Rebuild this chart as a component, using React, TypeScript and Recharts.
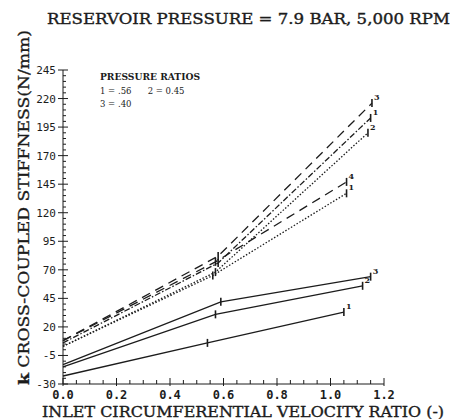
import React from "react";
import { Line, LineChart, XAxis, YAxis } from "recharts";

// upper group (dashed / dotted)
const dashHigh = [
  { x: 0, y: 8 },
  { x: 0.58, y: 82 },
  { x: 1.155, y: 216 },
];
const dashDotHigh = [
  { x: 0, y: 6 },
  { x: 0.58, y: 76 },
  { x: 1.15, y: 203 },
];
const dotHigh = [
  { x: 0, y: 3 },
  { x: 0.57, y: 68 },
  { x: 1.14, y: 190 },
];
const dashShort = [
  { x: 0, y: 8 },
  { x: 0.57, y: 77 },
  { x: 1.06, y: 147 },
];
const dotShort = [
  { x: 0, y: 3 },
  { x: 0.56, y: 65 },
  { x: 1.06, y: 137 },
];

// lower group (solid)
const solid3 = [
  { x: 0, y: -13 },
  { x: 0.59, y: 42 },
  { x: 1.15, y: 64 },
];
const solid2 = [
  { x: 0, y: -15 },
  { x: 0.57, y: 31 },
  { x: 1.12, y: 56 },
];
const solid1 = [
  { x: 0, y: -23 },
  { x: 0.54, y: 6 },
  { x: 1.05, y: 33 },
];

const yMajor = [-30, -5, 20, 45, 70, 95, 120, 145, 170, 195, 220, 245];
const xMajor = [0, 0.2, 0.4, 0.6, 0.8, 1.0, 1.2];
const yTicks = Array.from({ length: 56 }, (_, i) => -30 + i * 5);
const xTicks = Array.from({ length: 25 }, (_, i) => Math.round(i * 5) / 100);

const ink = "#1c1c1c";
const mono = "'DejaVu Sans Mono', monospace";
const serif = "'DejaVu Serif', serif";

function YTick(props: any) {
  const { x, y, payload } = props;
  const v = payload.value;
  const major = yMajor.includes(v);
  return (
    <g>
      {major ? (
        <>
          <line x1={x - 5} x2={x + 5} y1={y} y2={y} stroke={ink} />
          <text x={x - 7} y={y + 4} textAnchor="end" fontFamily={mono} fontSize={11} fill={ink}>
            {v}
          </text>
        </>
      ) : (
        <line x1={x} x2={x + 3} y1={y} y2={y} stroke={ink} />
      )}
    </g>
  );
}

function XTick(props: any) {
  const { x, y, payload } = props;
  const v = payload.value;
  const major = xMajor.some((m) => Math.abs(m - v) < 1e-6);
  return (
    <g>
      {major ? (
        <>
          <line x1={x} x2={x} y1={y - 6} y2={y + 2} stroke={ink} />
          <text x={x} y={y + 15} textAnchor="middle" fontFamily={mono} fontSize={12} fontWeight="bold" fill={ink}>
            {v.toFixed(1)}
          </text>
        </>
      ) : (
        <line x1={x} x2={x} y1={y - 4} y2={y} stroke={ink} />
      )}
    </g>
  );
}

function makeDot(label: string) {
  return (p: any) => {
    const { cx, cy, index, points } = p;
    if (index === 0) return <g key={`d${index}`} />;
    const last = points ? index === points.length - 1 : index === 2;
    return (
      <g key={`d${index}`}>
        <line x1={cx} x2={cx} y1={cy - 4} y2={cy + 4} stroke={ink} strokeWidth={1.6} />
        {last && (
          <text x={cx + 2} y={cy - 3} fontFamily={serif} fontWeight="bold" fontSize={8} fill={ink}>
            {label}
          </text>
        )}
      </g>
    );
  };
}

const lines = [
  { key: "dashHigh", data: dashHigh, dash: "9 6", label: "3" },
  { key: "dashDotHigh", data: dashDotHigh, dash: "6 2 1.5 2", label: "1" },
  { key: "dotHigh", data: dotHigh, dash: "1.5 1.8", label: "2" },
  { key: "dashShort", data: dashShort, dash: "9 6", label: "4" },
  { key: "dotShort", data: dotShort, dash: "1.5 1.8", label: "1" },
  { key: "solid3", data: solid3, dash: undefined, label: "3" },
  { key: "solid2", data: solid2, dash: undefined, label: "2" },
  { key: "solid1", data: solid1, dash: undefined, label: "1" },
];

export default function App() {
  return (
    <div style={{ position: "absolute", left: 0, top: 0, width: 454, height: 419, background: "#fff" }}>
      <LineChart width={454} height={419} margin={{ top: 70, right: 70, bottom: 0, left: 0 }}>
        <XAxis
          type="number"
          dataKey="x"
          domain={[0, 1.2]}
          ticks={xTicks}
          interval={0}
          tickLine={false}
          tickSize={0}
          tickMargin={0}
          height={35}
          stroke={ink}
          tick={<XTick />}
          allowDuplicatedCategory={false}
        />
        <YAxis
          type="number"
          domain={[-30, 245]}
          ticks={yTicks}
          interval={0}
          tickLine={false}
          tickSize={0}
          tickMargin={0}
          width={63}
          stroke={ink}
          tick={<YTick />}
        />
        {lines.map((l) => (
          <Line
            key={l.key}
            data={l.data}
            dataKey="y"
            type="linear"
            stroke={ink}
            strokeWidth={1.3}
            strokeDasharray={l.dash}
            dot={makeDot(l.label)}
            activeDot={false}
            isAnimationActive={false}
          />
        ))}
      </LineChart>
      <svg
        width={454}
        height={419}
        style={{ position: "absolute", left: 0, top: 0, pointerEvents: "none" }}
      >
        <g fontFamily={serif} fill={ink} stroke={ink} strokeWidth={0.35}>
          <text x={47} y={24} fontSize={14} textLength={403} lengthAdjust="spacingAndGlyphs">
            RESERVOIR PRESSURE = 7.9 BAR, 5,000 RPM
          </text>
          <text x={42} y={417} fontSize={14} textLength={402} lengthAdjust="spacingAndGlyphs">
            INLET CIRCUMFERENTIAL VELOCITY RATIO (-)
          </text>
          <text
            transform="translate(29,385) rotate(-90)"
            x={0}
            y={0}
            fontSize={15}
            textLength={355}
            lengthAdjust="spacingAndGlyphs"
          >
            <tspan fontWeight="bold">k</tspan> CROSS-COUPLED STIFFNESS(N/mm)
          </text>
        </g>
        <g fontFamily={serif} fontSize={8.5} fill={ink}>
          <text x={100} y={80} fontWeight="bold" textLength={100} lengthAdjust="spacingAndGlyphs">
            PRESSURE RATIOS
          </text>
          <text x={100} y={94} style={{ whiteSpace: "pre" }}>
            {"1 = .56      2 = 0.45"}
          </text>
          <text x={100} y={107}>
            3 = .40
          </text>
        </g>
      </svg>
    </div>
  );
}
